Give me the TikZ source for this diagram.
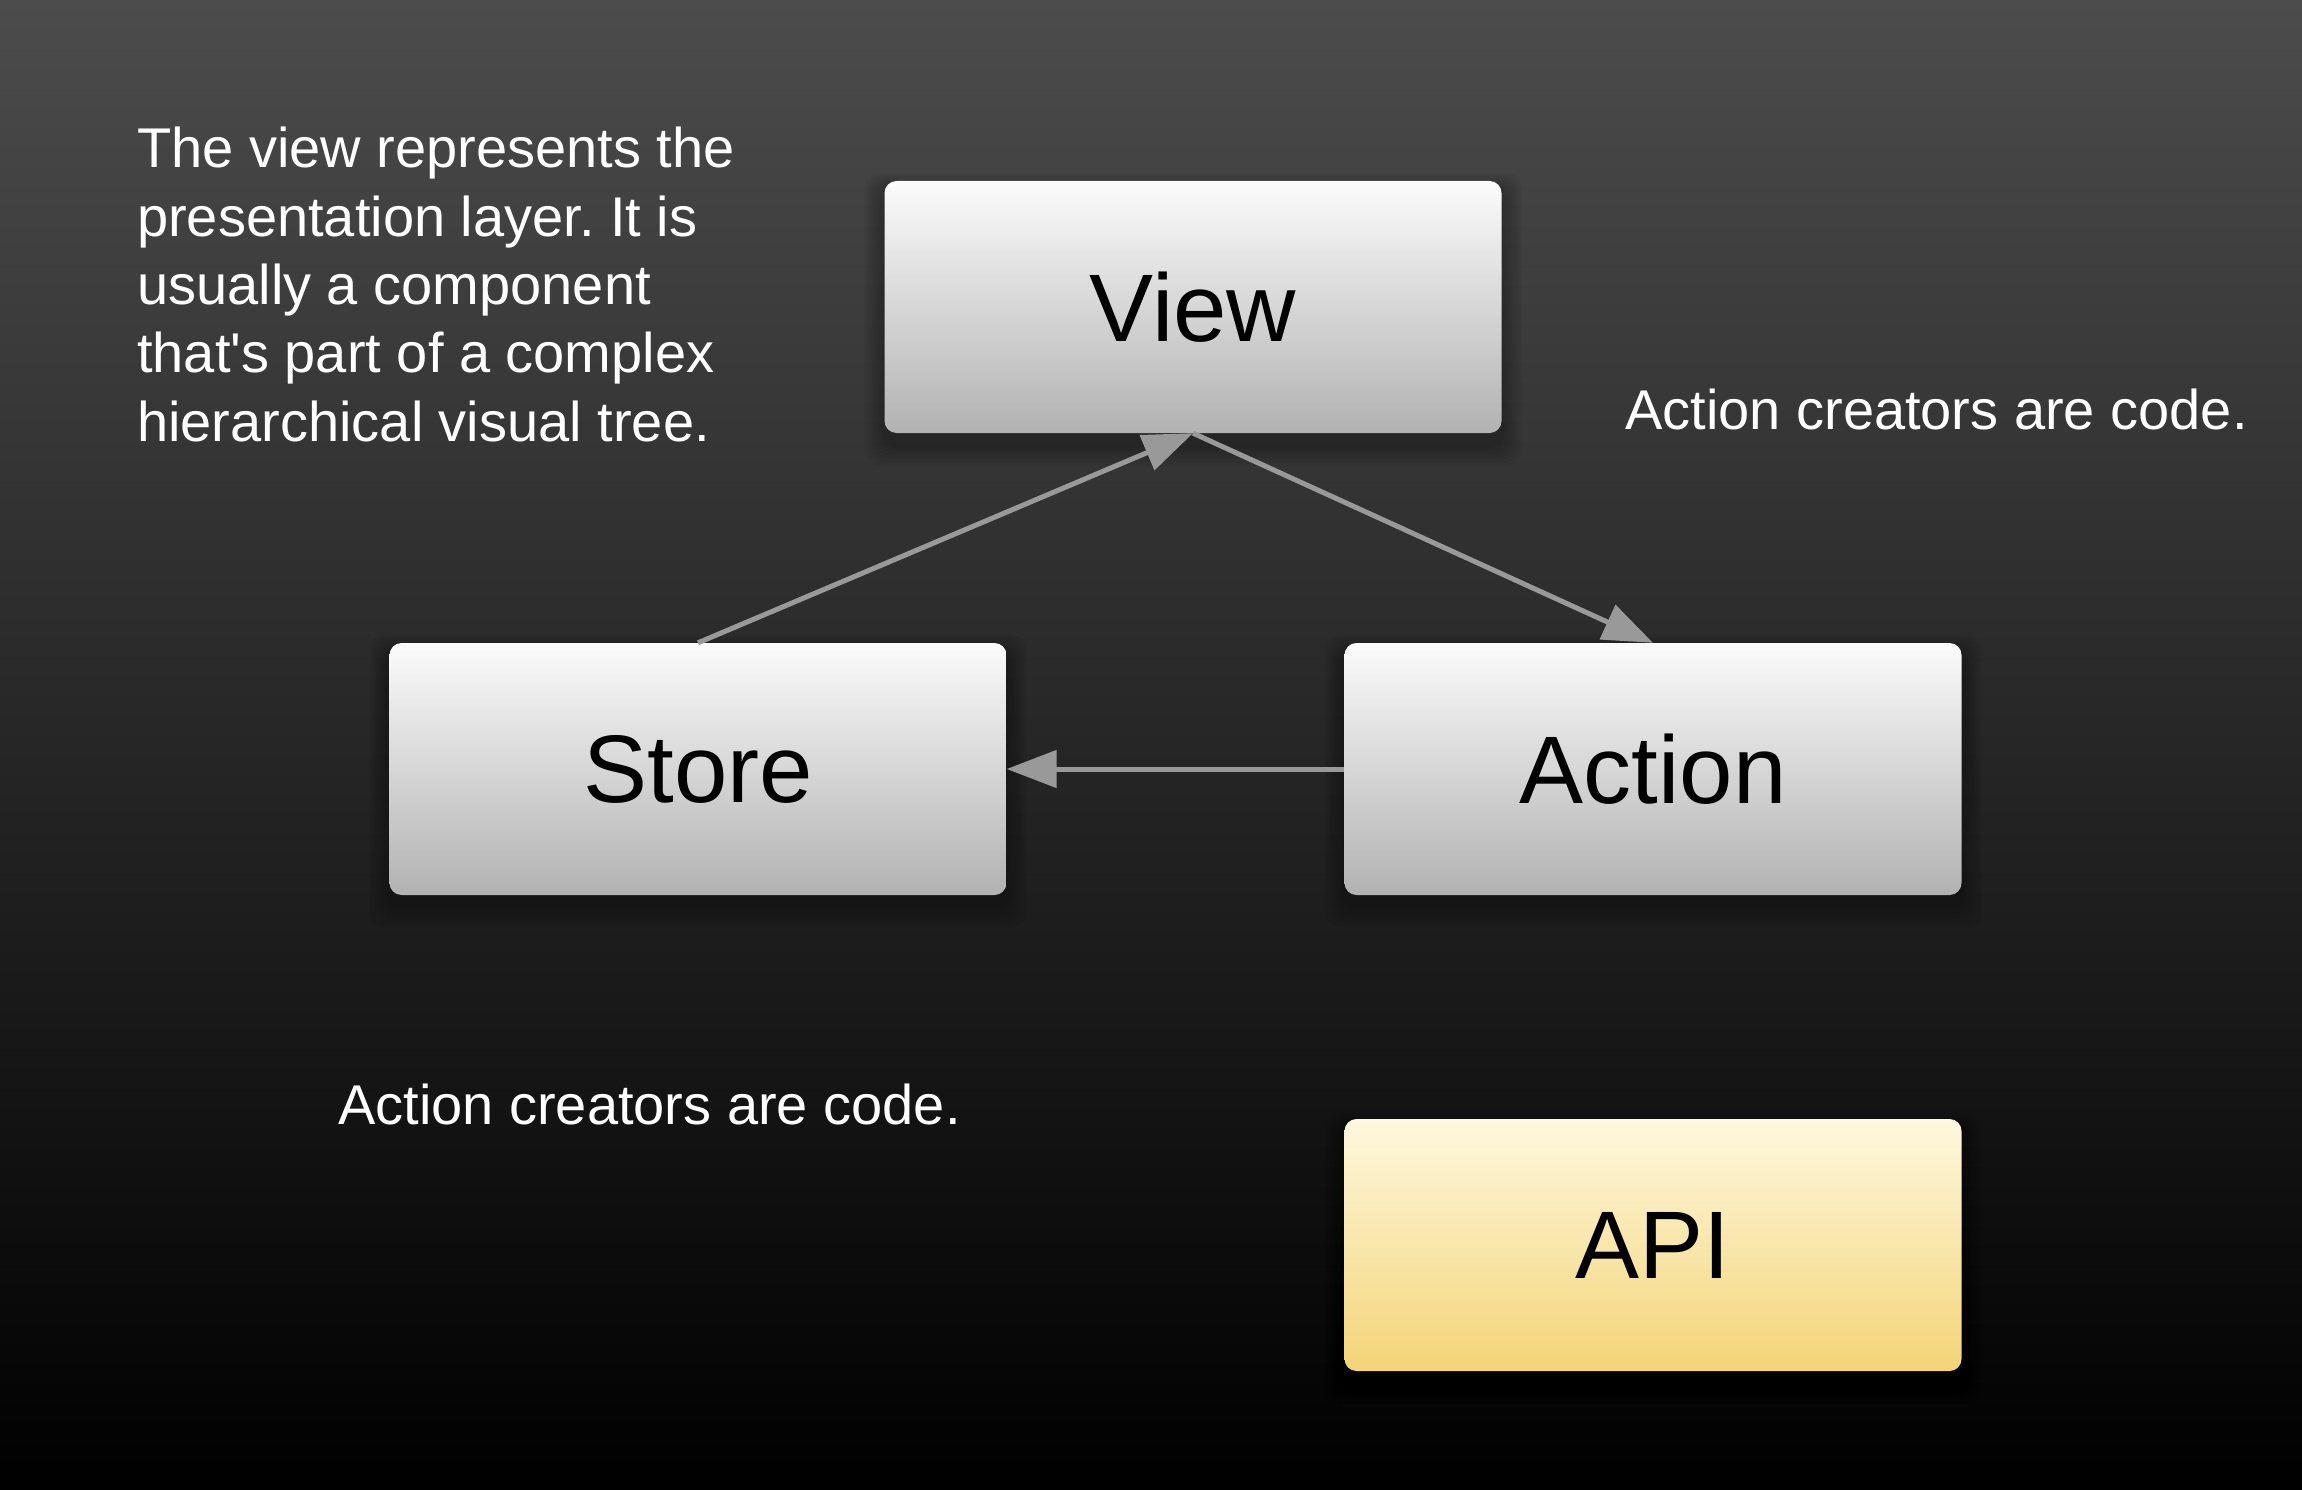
\documentclass[tikz,border=0pt]{standalone}
\usepackage{fontspec}
\setmainfont{Liberation Sans}[Ligatures=TeXOff]
\frenchspacing
\usetikzlibrary{arrows.meta,calc}
\definecolor{bgtop}{RGB}{76,76,76}
\definecolor{bgbot}{RGB}{0,0,0}
\definecolor{boxtop}{RGB}{251,251,251}
\definecolor{boxbot}{RGB}{178,178,178}
\definecolor{apitop}{RGB}{254,248,222}
\definecolor{apibot}{RGB}{243,212,120}
\definecolor{arrowgray}{RGB}{153,153,153}
\pgfdeclarelayer{bg}
\pgfdeclarelayer{shadow}
\pgfsetlayers{bg,shadow,main}
\tikzset{
  box/.style={rounded corners=12pt, minimum width=617pt, minimum height=252pt,
    inner sep=0pt, font=\fontsize{96}{115}\selectfont, text=black,
    top color=boxtop, bottom color=boxbot, draw=none},
  apibox/.style={box, top color=apitop, bottom color=apibot},
  txt/.style={text=white, inner sep=0pt, font=\fontsize{56}{68.3}\selectfont},
  flow/.style={draw=arrowgray, line width=5pt,
    -{Triangle[length=50pt,width=37pt]}}
}
\begin{document}
\begin{tikzpicture}[x=1pt,y=-1pt]
\useasboundingbox (0,0) rectangle (2302,1490);
\begin{pgfonlayer}{bg}
\shade[top color=bgtop, bottom color=bgbot] (0,0) rectangle (2302,1490);
\end{pgfonlayer}

\node[box] (view) at (1193,307) {View};
\node[box] (store) at (698,769) {Store};
\node[box] (action) at (1653,769) {Action};
\node[apibox] (api) at (1653,1245) {API};

\begin{pgfonlayer}{shadow}
\foreach \n in {view,store,action,api}{
  \foreach \k in {1,...,8}{
    \fill[black, opacity=0.035, rounded corners=16pt]
      ($(\n.north west)+(-2.5*\k,12-2.5*\k)$) rectangle
      ($(\n.south east)+(2.5*\k,12+2.5*\k)$);
  }
}
\end{pgfonlayer}

\draw[flow] (store.north) -- (view.south);
\draw[flow] (view.south) -- (action.north);
\draw[flow] (action.west) -- (store.east);

\node[txt, anchor=base west, align=left] (desc) at (137,441)
  {The view represents the\\presentation layer. It is\\usually a component\\that's part of a complex\\hierarchical visual tree.};
\node[txt, anchor=base west] (note1) at (1625,429) {Action creators are code.};
\node[txt, anchor=base west] (note2) at (338,1124) {Action creators are code.};
\end{tikzpicture}
\end{document}
